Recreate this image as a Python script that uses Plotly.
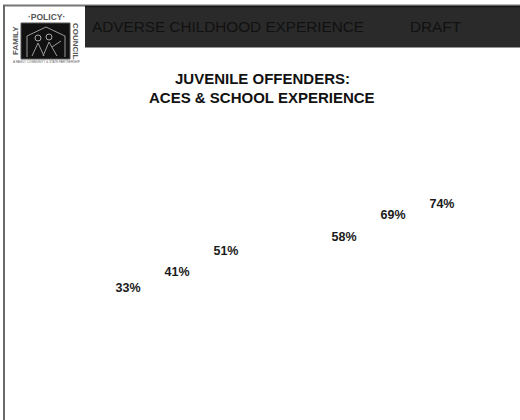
import plotly.graph_objects as go

groups = ["Group A", "Group B"]
series_names = ["Series 1", "Series 2", "Series 3"]
series_values = [
    [33, 58],
    [41, 69],
    [51, 74],
]

W, H = 520, 420

fig = go.Figure()
for name, vals in zip(series_names, series_values):
    fig.add_trace(go.Bar(
        x=groups, y=vals, name=name,
        marker=dict(color="rgba(255,255,255,0)", line=dict(width=0)),
        text=[f"<b>{v}%</b>" for v in vals],
        textposition="outside",
        textfont=dict(family="Liberation Sans, Arial", size=12.5, color="#1a1a1a"),
        cliponaxis=False,
        hoverinfo="skip",
    ))

def px(x):
    return x / W

def py(y):
    return 1 - y / H

shapes = [
    # outer frame
    dict(type="line", xref="paper", yref="paper", x0=px(3), x1=px(520), y0=py(5.5), y1=py(5.5),
         line=dict(color="#777777", width=2)),
    dict(type="line", xref="paper", yref="paper", x0=px(4), x1=px(4), y0=py(5), y1=py(420),
         line=dict(color="#6a6a6a", width=2)),
    # header bar
    dict(type="rect", xref="paper", yref="paper", x0=px(85), x1=px(520), y0=py(6), y1=py(47.5),
         fillcolor="#2a2a2a", line=dict(width=0)),
    dict(type="line", xref="paper", yref="paper", x0=px(85), x1=px(520), y0=py(6.5), y1=py(6.5),
         line=dict(color="#151515", width=1.5)),
    # logo black square
    dict(type="rect", xref="paper", yref="paper", x0=px(21), x1=px(70), y0=py(23), y1=py(59),
         fillcolor="#111111", line=dict(color="#555555", width=1)),
    # house outline in logo
    dict(type="path", xref="paper", yref="paper",
         path=f"M {px(27)} {py(57)} L {px(27)} {py(36)} L {px(46)} {py(27)} L {px(65)} {py(36)} L {px(65)} {py(57)}",
         line=dict(color="#9a9a9a", width=1)),
    dict(type="circle", xref="paper", yref="paper", x0=px(35), x1=px(41), y0=py(41), y1=py(35),
         line=dict(color="#aaaaaa", width=1)),
    dict(type="circle", xref="paper", yref="paper", x0=px(46), x1=px(52), y0=py(40), y1=py(34),
         line=dict(color="#aaaaaa", width=1)),
    dict(type="path", xref="paper", yref="paper",
         path=f"M {px(32)} {py(56)} L {px(38)} {py(43)} L {px(44)} {py(56)} M {px(43)} {py(56)} L {px(49)} {py(42)} L {px(57)} {py(56)} M {px(52)} {py(47)} L {px(61)} {py(41)}",
         line=dict(color="#9a9a9a", width=1)),
]

annotations = [
    dict(text="ADVERSE CHILDHOOD EXPERIENCE", x=px(89.5), y=py(26), xref="paper", yref="paper",
         xanchor="left", yanchor="middle", showarrow=False,
         font=dict(family="Liberation Sans, Arial", size=15.3, color="#111111")),
    dict(text="DRAFT", x=px(408), y=py(26), xref="paper", yref="paper",
         xanchor="left", yanchor="middle", showarrow=False,
         font=dict(family="Liberation Sans, Arial", size=15.3, color="#111111")),
    dict(text="<b>JUVENILE OFFENDERS:</b>", x=px(262), y=py(78.5),
         xref="paper", yref="paper", xanchor="center", yanchor="middle", showarrow=False,
         font=dict(family="Liberation Sans, Arial", size=15, color="#111111")),
    dict(text="<b>ACES &amp; SCHOOL EXPERIENCE</b>", x=px(262), y=py(97.5),
         xref="paper", yref="paper", xanchor="center", yanchor="middle", showarrow=False,
         font=dict(family="Liberation Sans, Arial", size=15, color="#111111")),
    # logo texts
    dict(text="<b>·POLICY·</b>", x=px(46), y=py(17.5), xref="paper", yref="paper",
         xanchor="center", yanchor="middle", showarrow=False,
         font=dict(family="Liberation Sans, Arial", size=8.5, color="#555555")),
    dict(text="<b>FAMILY</b>", x=px(16), y=py(41), xref="paper", yref="paper",
         xanchor="center", yanchor="middle", showarrow=False, textangle=-90,
         font=dict(family="Liberation Sans, Arial", size=8, color="#555555")),
    dict(text="<b>COUNCIL</b>", x=px(75), y=py(41), xref="paper", yref="paper",
         xanchor="center", yanchor="middle", showarrow=False, textangle=90,
         font=dict(family="Liberation Sans, Arial", size=8, color="#555555")),
    dict(text="A FAMILY COMMUNITY &amp; STATE PARTNERSHIP", x=px(46), y=py(62), xref="paper", yref="paper",
         xanchor="center", yanchor="middle", showarrow=False,
         font=dict(family="Liberation Sans, Arial", size=3, color="#666666")),
]

fig.update_layout(
    width=W, height=H,
    margin=dict(l=0, r=0, t=0, b=0, pad=0),
    paper_bgcolor="white", plot_bgcolor="white",
    barmode="group", bargap=0.32, bargroupgap=0,
    showlegend=False,
    xaxis=dict(visible=False, domain=[69 / W, 501 / W], fixedrange=True),
    yaxis=dict(visible=False, range=[0, 100], domain=[1 - 366 / H, 1 - 161 / H], fixedrange=True),
    shapes=shapes,
    annotations=annotations,
    uniformtext=dict(minsize=12, mode="show"),
)

fig.write_html(
    "out.html",
    config={"displayModeBar": False},
    post_script="document.body.style.margin='0';document.body.style.overflow='hidden';",
)
